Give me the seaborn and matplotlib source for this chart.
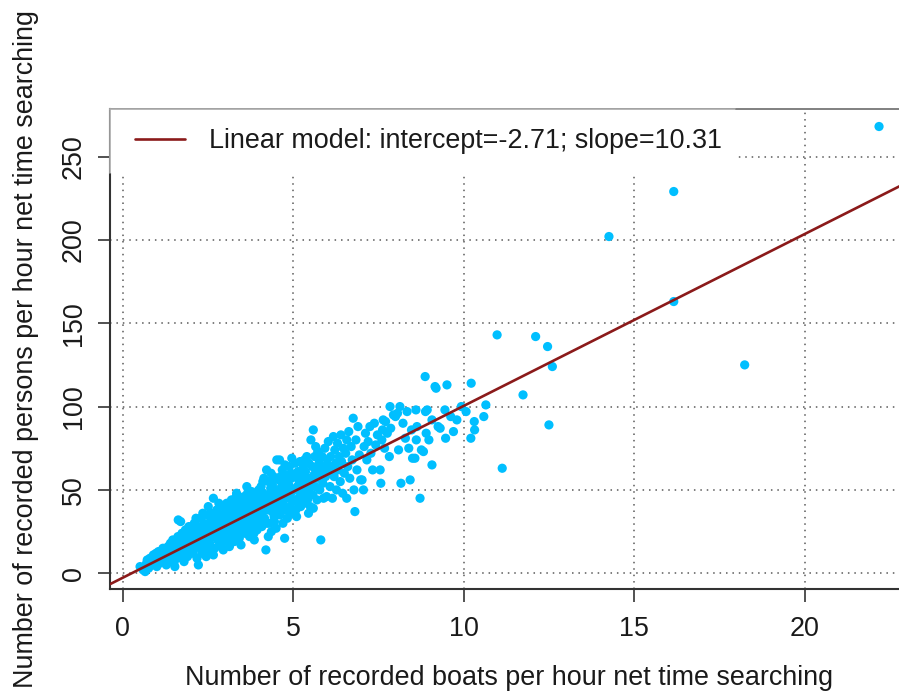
import matplotlib
matplotlib.use("Agg")
import matplotlib.pyplot as plt
from matplotlib.patches import Rectangle
import pandas as pd
import seaborn as sns

# Boats and persons recorded per hour of net searching time, one value per survey
boats = [
    0.51, 0.60, 0.66, 0.70, 0.76, 0.80, 0.86, 0.90, 0.95, 0.98, 0.72, 1.00,
    1.02, 1.05, 1.08, 1.10, 1.14, 1.18, 1.20, 1.22, 1.26, 1.28, 1.30, 1.33, 1.35, 1.38, 1.40, 1.42, 1.45, 1.47, 1.48, 1.50,
    1.53, 1.55, 1.57, 1.60, 1.62, 1.63, 1.65, 1.68, 1.70, 1.72, 1.74, 1.76, 1.78, 1.80, 1.82, 1.84, 1.86, 1.88, 1.90, 1.92, 1.94, 1.96, 1.98, 2.00,
    2.02, 2.04, 2.06, 2.08, 2.10, 2.12, 2.14, 2.16, 2.18, 2.20, 2.22, 2.24, 2.26, 2.28, 2.30, 2.32, 2.34, 2.36, 2.38, 2.40, 2.42, 2.44, 2.46, 2.48, 2.50, 2.45, 2.35, 2.15,
    2.51, 2.53, 2.55, 2.57, 2.59, 2.61, 2.63, 2.66, 2.66, 2.68, 2.70, 2.72, 2.74, 2.76, 2.78, 2.80, 2.82, 2.84, 2.86, 2.88, 2.90, 2.92, 2.94, 2.96, 2.98, 3.00, 2.75, 2.85, 2.62, 2.95,
    3.02, 3.04, 3.05, 3.07, 3.09, 3.11, 3.13, 3.15, 3.17, 3.19, 3.21, 3.23, 3.25, 3.27, 3.29, 3.31, 3.33, 3.34, 3.36, 3.38, 3.40, 3.42, 3.44, 3.46, 3.48, 3.50, 3.12, 3.22, 3.32, 3.42, 3.47, 3.18, 3.28, 3.38, 3.08,
    3.52, 3.54, 3.56, 3.58, 3.60, 3.62, 3.64, 3.66, 3.68, 3.70, 3.72, 3.74, 3.76, 3.78, 3.80, 3.82, 3.84, 3.86, 3.88, 3.90, 3.92, 3.94, 3.96, 3.98, 4.00, 3.55, 3.63, 3.69, 3.75, 3.81, 3.87, 3.93, 3.99, 3.57, 3.73, 3.85, 3.97, 3.66,
    4.02, 4.04, 4.06, 4.08, 4.10, 4.12, 4.14, 4.16, 4.18, 4.20, 4.22, 4.24, 4.26, 4.28, 4.30, 4.32, 4.34, 4.36, 4.38, 4.40, 4.42, 4.44, 4.46, 4.48, 4.50, 4.52, 4.05, 4.11, 4.17, 4.23, 4.29, 4.35, 4.41, 4.47, 4.15, 4.27, 4.39, 4.45,
    4.54, 4.56, 4.58, 4.60, 4.62, 4.64, 4.66, 4.68, 4.70, 4.72, 4.74, 4.75, 4.77, 4.79, 4.81, 4.83, 4.85, 4.87, 4.89, 4.91, 4.93, 4.95, 4.96, 4.98, 5.00, 4.57, 4.63, 4.69, 4.76, 4.82, 4.88, 4.94, 4.99, 4.61, 4.73, 4.86,
    5.02, 5.04, 5.06, 5.08, 5.10, 5.12, 5.14, 5.16, 5.18, 5.20, 5.22, 5.24, 5.26, 5.28, 5.30, 5.32, 5.34, 5.36, 5.38, 5.40, 5.42, 5.44, 5.46, 5.48, 5.50, 5.07, 5.21, 5.33, 5.45, 5.15,
    5.52, 5.54, 5.56, 5.58, 5.59, 5.59, 5.61, 5.63, 5.65, 5.68, 5.70, 5.72, 5.74, 5.76, 5.78, 5.81, 5.83, 5.85, 5.87, 5.89, 5.91, 5.93, 5.95, 5.98, 6.00, 5.66,
    6.03, 6.05, 6.08, 6.10, 6.13, 6.15, 6.18, 6.20, 6.22, 6.25, 6.27, 6.30, 6.32, 6.35, 6.38, 6.40, 6.42, 6.45, 6.47, 6.50,
    6.54, 6.57, 6.57, 6.60, 6.63, 6.66, 6.70, 6.73, 6.76, 6.78, 6.81, 6.84, 6.87, 6.90, 6.94, 6.98,
    7.02, 7.06, 7.08, 7.12, 7.16, 7.20, 7.25, 7.28, 7.33, 7.38, 7.42, 7.47,
    7.55, 7.57, 7.60, 7.62, 7.64, 7.68, 7.71, 7.76, 7.82, 7.84, 7.86, 7.94,
    8.00, 8.06, 8.09, 8.13, 8.16, 8.22, 8.29, 8.34, 8.39, 8.43, 8.47, 8.50,
    8.57, 8.60, 8.61, 8.63, 8.72, 8.76, 8.82, 8.87, 8.88, 8.90, 8.93, 8.98,
    9.07, 9.07, 9.16, 9.19, 9.25, 9.31, 9.45, 9.47, 9.51, 9.62, 9.70, 9.80, 9.93, 10.07,
    10.21, 10.22, 10.31, 10.32, 10.59, 10.65, 10.98, 11.13, 11.74, 12.11, 12.46, 12.50, 12.60, 14.26, 16.16, 16.16, 18.24, 22.18,
]
persons = [
    4, 2, 1, 6, 3, 9, 5, 11, 7, 12, 8, 4,
    9, 13, 6, 12, 10, 15, 8, 11, 14, 5, 10, 16, 12, 8, 18, 13, 10, 20, 15, 6,
    4, 12, 17, 9, 22, 32, 14, 19, 31, 11, 24, 16, 20, 7, 13, 26, 18, 22, 10, 15, 28, 20, 13, 24,
    17, 27, 12, 21, 30, 15, 24, 19, 9, 28, 5, 22, 16, 33, 20, 12, 26, 18, 30, 23, 14, 27, 21, 35, 17, 10, 36, 33,
    40, 25, 18, 31, 22, 36, 13, 45, 11, 28, 15, 33, 24, 38, 20, 29, 42, 17, 26, 35, 22, 31, 40, 19, 27, 36, 30, 23, 27, 14,
    25, 33, 42, 20, 29, 38, 16, 27, 35, 44, 23, 31, 40, 19, 28, 36, 46, 48, 25, 33, 41, 21, 30, 38, 27, 44, 31, 36, 22, 35, 17, 24, 42, 29, 37,
    30, 38, 46, 24, 34, 42, 52, 28, 37, 45, 22, 32, 40, 49, 27, 36, 44, 20, 31, 39, 47, 26, 35, 43, 30, 41, 33, 25, 47, 40, 34, 29, 50, 36, 38, 24, 39, 48,
    36, 44, 52, 28, 40, 48, 57, 33, 42, 14, 62, 38, 47, 55, 30, 43, 51, 25, 37, 46, 58, 34, 41, 50, 27, 68, 33, 55, 46, 30, 40, 60, 38, 45, 38, 22, 53, 31,
    40, 48, 56, 68, 35, 44, 52, 62, 30, 47, 55, 21, 38, 50, 59, 33, 45, 53, 64, 40, 48, 57, 69, 36, 50, 38, 58, 42, 65, 46, 37, 60, 43, 50, 40, 56,
    44, 58, 66, 38, 34, 52, 61, 45, 55, 67, 40, 50, 59, 47, 64, 42, 54, 61, 48, 70, 44, 57, 66, 51, 40, 50, 46, 68, 36, 42,
    80, 55, 64, 47, 86, 39, 59, 70, 52, 62, 44, 73, 57, 66, 50, 20, 61, 70, 54, 45, 64, 75, 58, 46, 68, 76,
    79, 60, 52, 70, 64, 45, 82, 58, 74, 66, 50, 78, 62, 70, 55, 83, 67, 48, 75, 60,
    72, 80, 45, 64, 85, 57, 76, 68, 93, 50, 37, 80, 62, 88, 71, 56,
    56, 50, 76, 84, 68, 79, 88, 72, 62, 90, 77, 83,
    62, 54, 80, 86, 92, 75, 91, 84, 70, 100, 87, 95,
    94, 96, 74, 100, 54, 90, 81, 97, 75, 56, 86, 69,
    69, 98, 80, 88, 45, 74, 73, 118, 97, 84, 98, 80,
    92, 65, 112, 111, 88, 87, 98, 81, 113, 94, 85, 92, 100, 97,
    81, 114, 91, 86, 94, 101, 143, 63, 107, 142, 136, 89, 124, 202, 229, 163, 125, 268,
]

# Fitted linear model
intercept = -2.71
slope = 10.31

x_ticks = [0, 5, 10, 15, 20]
y_ticks = [0, 50, 100, 150, 200, 250]
x_label = "Number of recorded boats per hour net time searching"
y_label = "Number of recorded persons per hour net time searching"

sns.set_style("ticks")
plt.rcParams["font.family"] = ["Liberation Sans", "DejaVu Sans"]

FS = 19.4
INK = "#1a1a1a"
POINT = "#00BFFF"
FIT = "#8b1a1a"

df = pd.DataFrame({"boats": boats, "persons": persons})

fig = plt.figure(figsize=(8.99, 6.91), dpi=100)
ax = fig.add_axes([0.12291, 0.14703, 0.88777, 0.69566])

sns.scatterplot(data=df, x="boats", y="persons", color=POINT, s=44,
                edgecolor="none", linewidth=0, ax=ax, zorder=3, legend=False)

fit_line = ax.axline((0, intercept), slope=slope, color=FIT, lw=1.9, zorder=4,
                     label=f"Linear model: intercept={intercept:.2f}; slope={slope:.2f}")

ax.set_xlim(-0.357, 23.047)
ax.set_ylim(-9.68, 278.68)
ax.set_xticks(x_ticks)
ax.set_yticks(y_ticks)
ax.set_xticklabels([str(v) for v in x_ticks])
ax.set_yticklabels([str(v) for v in y_ticks])

ax.set_axisbelow(True)
ax.grid(True, color="#5a5a5a", linestyle=(0, (1, 3.2)), lw=1.1)

for side in ("left", "bottom"):
    ax.spines[side].set_color("#333333")
    ax.spines[side].set_linewidth(1.5)
ax.spines["top"].set_color("#808080")
ax.spines["top"].set_linewidth(1.4)
ax.spines["right"].set_visible(False)

ax.tick_params(axis="both", length=9, width=1.2, color="#333333",
               labelsize=FS, labelcolor=INK)
ax.tick_params(axis="x", pad=10)
ax.tick_params(axis="y", pad=8, labelrotation=90)
for lab in ax.get_yticklabels():
    lab.set_va("center")

ax.set_xlabel(x_label, fontsize=FS, color=INK, va="center")
ax.xaxis.set_label_coords(0.5, -0.184)
ax.set_ylabel(y_label, fontsize=FS, color=INK, va="center")
ax.yaxis.set_label_coords(-0.1060, 0.5)

# Legend panel: white box in the upper-left corner of the plot
box_w, box_h = 0.7825, 1 - 0.8662
ax.add_patch(Rectangle((0, 1 - box_h), box_w, box_h, transform=ax.transAxes,
                       facecolor="white", edgecolor="none", zorder=2.6, clip_on=False))
ax.plot([0, box_w], [1, 1], transform=ax.transAxes, color="#aaaaaa", lw=1.2,
        zorder=2.7, clip_on=False)
ax.plot([0, 0], [1, 1 - box_h], transform=ax.transAxes, color="#aaaaaa", lw=1.2,
        zorder=2.7, clip_on=False)

leg = ax.legend(handles=[fit_line], loc="center left", bbox_to_anchor=(0.0307, 0.9328),
                frameon=False, borderpad=0, borderaxespad=0, handlelength=1.86,
                handletextpad=0.89, fontsize=FS, labelcolor=INK)

fig.savefig("out.png", dpi=100)
